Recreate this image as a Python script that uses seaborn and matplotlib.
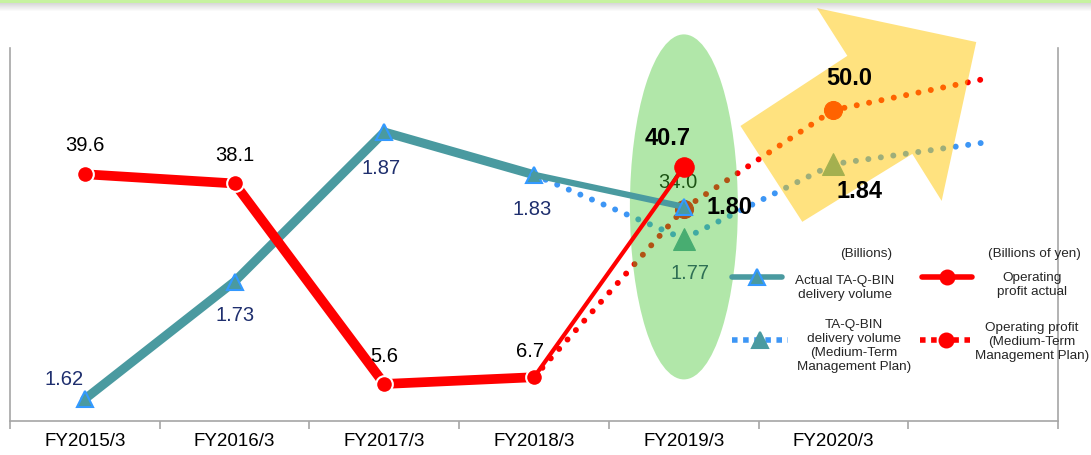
import matplotlib
matplotlib.use('Agg')
import matplotlib.pyplot as plt
import seaborn as sns
import numpy as np
from matplotlib.patches import Ellipse, Polygon, Rectangle
from matplotlib.lines import Line2D

# Data
categories = ['FY2015/3', 'FY2016/3', 'FY2017/3', 'FY2018/3', 'FY2019/3', 'FY2020/3', '']
vol_actual = [1.62, 1.73, 1.87, 1.83, 1.80]          # billions of parcels
profit_actual = [39.6, 38.1, 5.6, 6.7, 40.7]         # billions of yen
vol_plan = [1.83, 1.77, 1.84, 1.86]                  # FY2018/3 onwards
profit_plan = [6.7, 34.0, 50.0, 55.0]                # FY2018/3 onwards
plan_start = 3

TEAL = '#4a9aa0'
TRI_EDGE = '#3399ff'
RED = '#ff0000'
BLUE_DOT = '#3d96f5'
NAVY = '#1f2f6e'
GRID = '#a6a6a6'

sns.set_theme(style='white')
plt.rcParams['font.family'] = ['Liberation Sans', 'DejaVu Sans']

W, H = 1091, 456
fig = plt.figure(figsize=(W / 100, H / 100), dpi=100)
ax = fig.add_axes([10 / W, 34 / H, 1048 / W, 373 / H])
ax2 = ax.twinx()  # profit scale, only used for its transform
ax2.set_axis_off()

x_all = np.arange(len(categories))
x_act = x_all[:len(vol_actual)]
x_plan = x_all[plan_start:plan_start + len(vol_plan)]
pt = ax2.transData

# plan (medium-term) lines, underneath the highlight shapes
dot = (0, (0.01, 2.1))
sns.lineplot(x=x_plan, y=vol_plan, ax=ax, color=BLUE_DOT, lw=4.3, linestyle=dot,
             dash_capstyle='round', marker='^', markersize=16, markevery=[1, 2],
             markerfacecolor=TEAL, markeredgecolor=TEAL, errorbar=None, legend=False, zorder=2)
sns.lineplot(x=x_plan, y=profit_plan, ax=ax, transform=pt, color=RED, lw=4.3, linestyle=dot,
             dash_capstyle='round', marker='o', markersize=13, markevery=[1, 2],
             markerfacecolor=RED, markeredgecolor=RED, errorbar=None, legend=False, zorder=2)

# highlight shapes (semi transparent)
ax.add_patch(Ellipse((0.643, 0.574), 0.103, 0.925, transform=ax.transAxes, facecolor='#46c832',
                     alpha=0.42, edgecolor='none', zorder=3, clip_on=False))
arrow_xy = [(0.770, 1.107), (0.922, 1.016), (0.889, 0.590), (0.861, 0.716),
            (0.756, 0.534), (0.697, 0.791), (0.799, 0.979)]
ax.add_patch(Polygon(arrow_xy, closed=True, transform=ax.transAxes, facecolor='#ffc600',
                     alpha=0.5, edgecolor='none', zorder=3, clip_on=False))

# actual lines
sns.lineplot(x=x_act[:4], y=vol_actual[:4], ax=ax, color=TEAL, lw=6.5, marker='^', markersize=11,
             markerfacecolor=TEAL, markeredgecolor=TRI_EDGE, markeredgewidth=1.5,
             errorbar=None, legend=False, zorder=4)
sns.lineplot(x=x_act[3:], y=vol_actual[3:], ax=ax, color=TEAL, lw=4.5, marker='^', markersize=11,
             markevery=[1], markerfacecolor=TEAL, markeredgecolor=TRI_EDGE, markeredgewidth=1.5,
             errorbar=None, legend=False, zorder=4)
sns.lineplot(x=x_act[:4], y=profit_actual[:4], ax=ax, transform=pt, color=RED, lw=7, marker='o',
             markersize=12, markerfacecolor=RED, markeredgecolor='white', markeredgewidth=1.5,
             errorbar=None, legend=False, zorder=4)
sns.lineplot(x=x_act[3:], y=profit_actual[3:], ax=ax, transform=pt, color=RED, lw=3, marker='o',
             markersize=14, markevery=[1], markerfacecolor=RED, markeredgecolor=RED,
             errorbar=None, legend=False, zorder=4)

# value labels
FS = 14.5
FSB = 17


def label(x, y, s, dx, dy, color='black', size=FS, weight='normal', z=6, trans=None):
    ax.annotate(s, (x, y), xycoords=trans if trans is not None else ax.transData,
                xytext=(dx, dy), textcoords='offset pixels', ha='center', va='center',
                fontsize=size, color=color, fontweight=weight, zorder=z)


vol_offsets = [(-21, 21), (0, -33), (-3, -35), (-2, -34)]
for x, v, (dx, dy) in zip(x_act[:4], vol_actual[:4], vol_offsets):
    label(x, v, f'{v:.2f}', dx, dy, color=NAVY)
label(x_act[4], vol_actual[4], f'{vol_actual[4]:.2f}', 46, 0, size=FSB, weight='bold')

prof_offsets = [(0, 30), (0, 29), (0, 28), (-4, 27)]
for x, v, (dx, dy) in zip(x_act[:4], profit_actual[:4], prof_offsets):
    label(x, v, f'{v:.1f}', dx, dy, trans=pt)
label(x_act[4], profit_actual[4], f'{profit_actual[4]:.1f}', -16, 30, size=FSB, weight='bold', trans=pt)

# plan labels: FY2019 under the ellipse, FY2020 on top
label(x_plan[1], vol_plan[1], f'{vol_plan[1]:.2f}', 6, -34, color=NAVY, z=2.5)
label(x_plan[1], profit_plan[1], f'{profit_plan[1]:.1f}', -6, 27, z=2.5, trans=pt)
label(x_plan[2], vol_plan[2], f'{vol_plan[2]:.2f}', 26, -26, size=FSB, weight='bold')
label(x_plan[2], profit_plan[2], f'{profit_plan[2]:.1f}', 16, 33, size=FSB, weight='bold', trans=pt)

# axes
ax.set_xlim(-0.5, len(categories) - 0.5)
ax.set_ylim(1.5994, 1.9487)
ax2.set_ylim(-0.4, 60.06)
ax.set_yticks([])
ax.set_xticks(x_all)
ax.set_xticklabels(categories, fontsize=13.5, color='black')
ax.set_xticks(np.arange(-0.5, len(categories), 1), minor=True)
ax.tick_params(axis='x', which='major', length=0, pad=8)
ax.tick_params(axis='x', which='minor', bottom=True, length=6, width=1.2, color=GRID, direction='out')
for side in ['left', 'right', 'bottom']:
    ax.spines[side].set_color(GRID)
    ax.spines[side].set_linewidth(1.2)
ax.spines['top'].set_visible(False)

# green band at the top with a soft shadow
fig.add_artist(Rectangle((0, 1 - 4 / H), 1, 4 / H, transform=fig.transFigure,
                         facecolor='#c6f2a0', edgecolor='none'))
for i in range(8):
    fig.add_artist(Rectangle((0, 1 - (5 + i) / H), 1, 1 / H, transform=fig.transFigure,
                             facecolor='gray', alpha=0.3 * (1 - i / 8), edgecolor='none'))


# legend, drawn by hand to match the centred two-column layout
def fx(px):
    return px / W


def fy(py):
    return 1 - py / H


def handle(x0, x1, y, color, lw, ls, marker, mface, medge, ms):
    fig.add_artist(Line2D([fx(x0), fx(x1)], [fy(y), fy(y)], transform=fig.transFigure,
                          color=color, lw=lw, linestyle=ls))
    fig.add_artist(Line2D([fx((x0 + x1) / 2)], [fy(y)], transform=fig.transFigure,
                          marker=marker, markersize=ms, markerfacecolor=mface,
                          markeredgecolor=medge, markeredgewidth=1.5, linestyle='none'))


lfs = 9.7
fig.text(fx(866), fy(254), '(Billions)', ha='center', va='center', fontsize=lfs)
fig.text(fx(1034), fy(254), '(Billions of yen)', ha='center', va='center', fontsize=lfs)

handle(732, 782, 278, TEAL, 4, '-', '^', TEAL, TRI_EDGE, 11)
fig.text(fx(845), fy(288), 'Actual TA-Q-BIN\ndelivery volume', ha='center', va='center',
         multialignment='center', fontsize=lfs)
handle(732, 788, 341, BLUE_DOT, 4, (0, (1, 1)), '^', TEAL, TEAL, 11)
fig.text(fx(854), fy(346), 'TA-Q-BIN\ndelivery volume\n(Medium-Term\nManagement Plan)',
         ha='center', va='center', multialignment='center', fontsize=lfs)
handle(922, 972, 278, RED, 4, '-', 'o', RED, RED, 10)
fig.text(fx(1032), fy(285), 'Operating\nprofit actual', ha='center', va='center',
         multialignment='center', fontsize=lfs)
handle(920, 972, 341, RED, 4, (0, (1, 1)), 'o', RED, RED, 10)
fig.text(fx(1032), fy(342), 'Operating profit\n(Medium-Term\nManagement Plan)', ha='center',
         va='center', multialignment='center', fontsize=lfs)

fig.savefig('out.png', dpi=100)
